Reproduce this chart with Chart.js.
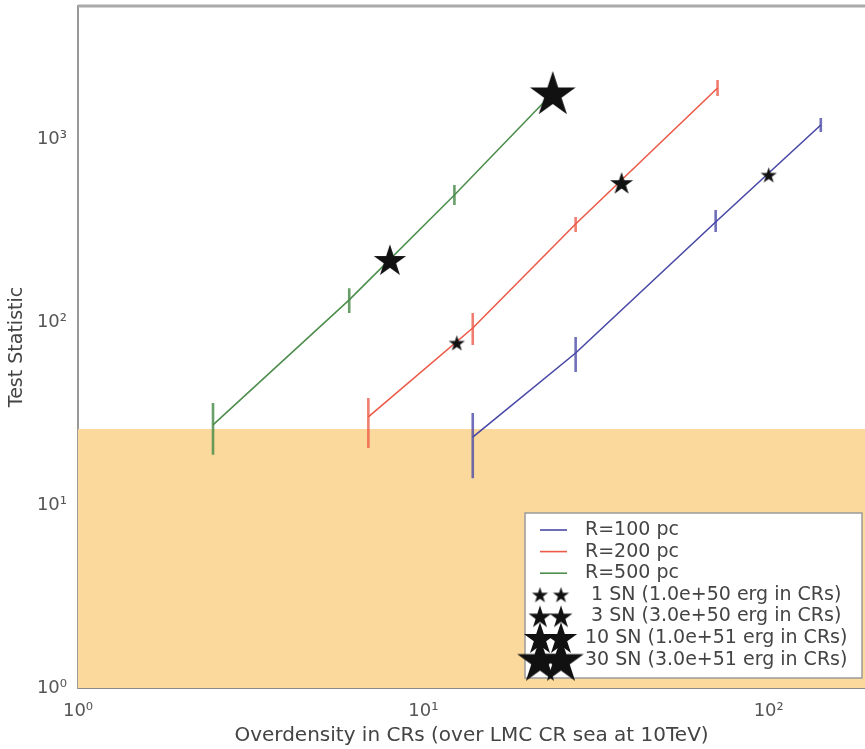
<!DOCTYPE html>
<html>
<head>
<meta charset="utf-8">
<script src="https://cdn.jsdelivr.net/npm/chart.js@4/dist/chart.umd.min.js"></script>
<style>
  html, body { margin: 0; padding: 0; background: #fff; overflow: hidden; }
  #wrap { width: 865px; height: 749px; }
</style>
</head>
<body>
<div id="wrap"><canvas id="c" width="865" height="749"></canvas></div>
<script>
"use strict";
// TS vs CR overdensity for three source radii, with SN-count stars and TS threshold band.

// R = 100 pc
const r100X  = [13.9, 27.6, 70.2, 141.5];
const r100Y  = [23.5, 67.7, 352, 1193];
const r100Lo = [14.0, 53.3, 310, 1092];
const r100Hi = [31.8, 82.8, 409, 1303];
// R = 200 pc
const r200X  = [6.93, 13.9, 27.6, 71.1];
const r200Y  = [30.3, 92.7, 343, 1900];
const r200Lo = [20.5, 74.9, 310, 1718];
const r200Hi = [38.4, 112, 375, 2100];
// R = 500 pc
const r500X  = [2.46, 6.1, 12.3, 23.7];
const r500Y  = [27.4, 132, 494, 1784];
const r500Lo = [18.8, 112, 436, 1614];
const r500Hi = [36.1, 153, 561, 1972];
// stars: number of SN
const starX  = [100, 12.5, 37.5, 8, 23.7];
const starY  = [636, 76.8, 575, 218, 1784];
const starSN = [1, 1, 3, 10, 30];
// threshold band
const bandTS = 26;
const xRange = [1, 190];
const yRange = [1, 5330];
const xTicks = [1, 10, 100];
const yTicks = [1, 10, 100, 1000];
const seriesNames = ["R=100 pc", "R=200 pc", "R=500 pc"];
const snLevels = [1, 3, 10, 30];
const snLabels = [" 1 SN (1.0e+50 erg in CRs)", " 3 SN (3.0e+50 erg in CRs)", "10 SN (1.0e+51 erg in CRs)", "30 SN (3.0e+51 erg in CRs)"];

const COL = ["#4848a6", "#ec5a48", "#4e8e4e"];
const BAR = ["rgba(72,72,166,.78)", "rgba(236,90,72,.78)", "rgba(78,142,78,.85)"];
const FONT = '"DejaVu Sans", sans-serif';
const starPx = { 1: 17, 3: 24, 10: 34, 30: 48 };

const pts = (xs, ys) => xs.map((x, i) => ({ x, y: ys[i] }));
const bars = (xs, lo, hi) => {
  const out = [];
  xs.forEach((x, i) => { out.push({ x, y: lo[i] }, { x, y: hi[i] }, { x, y: null }); });
  return out;
};
const sup = (v) => "10" + "⁰¹²³⁴"[Math.round(Math.log10(v))];

function starCanvas(d) {
  const c = document.createElement("canvas");
  c.width = c.height = d + 2;
  const g = c.getContext("2d"), R = d / 2, r = R * 0.382, cx = c.width / 2, cy = c.height / 2 + R * 0.08;
  g.beginPath();
  for (let k = 0; k < 10; k++) {
    const a = -Math.PI / 2 + k * Math.PI / 5, rr = k % 2 ? r : R;
    g[k ? "lineTo" : "moveTo"](cx + rr * Math.cos(a), cy + rr * Math.sin(a));
  }
  g.closePath();
  g.fillStyle = "#111"; g.fill();
  return c;
}
const starImg = {};
snLevels.forEach(n => { starImg[n] = starCanvas(starPx[n]); });

const lineDs = (label, xs, ys, col) => ({
  label, data: pts(xs, ys), borderColor: col, borderWidth: 1.6, pointRadius: 0, fill: false, order: 5
});
const barDs = (xs, lo, hi, col) => ({
  data: bars(xs, lo, hi), borderColor: col, borderWidth: 2.6, pointRadius: 0, spanGaps: false, fill: false, order: 4
});

// framed legend in the lower right corner + top spine
const legendPlugin = {
  id: "boxLegend",
  afterDraw(chart) {
    const { ctx, chartArea: a } = chart;
    ctx.save();
    ctx.strokeStyle = "#aaa"; ctx.lineWidth = 3;
    ctx.beginPath(); ctx.moveTo(a.left, a.top); ctx.lineTo(a.right, a.top); ctx.stroke();

    const bx = a.right - 340, by = a.bottom - 175, bw = 337, bh = 165, row = 21.6;
    ctx.fillStyle = "#fff"; ctx.fillRect(bx, by, bw, bh);
    ctx.strokeStyle = "#9a9a9a"; ctx.lineWidth = 1.5; ctx.strokeRect(bx, by, bw, bh);
    ctx.font = "19px " + FONT; ctx.fillStyle = "#444"; ctx.textBaseline = "middle";
    const tx = bx + 60;
    let y = by + 17;
    seriesNames.forEach((s, i) => {
      ctx.strokeStyle = COL[i]; ctx.lineWidth = 1.6;
      ctx.beginPath(); ctx.moveTo(bx + 15, y); ctx.lineTo(bx + 42, y); ctx.stroke();
      ctx.fillText(s, tx, y);
      y += row;
    });
    snLevels.forEach((n, i) => {
      const im = starImg[n];
      [bx + 15, bx + 36].forEach(cx => ctx.drawImage(im, cx - im.width / 2, y - im.height / 2));
      ctx.fillText(snLabels[i], tx, y);
      y += row;
    });
    ctx.restore();
  }
};

new Chart(document.getElementById("c"), {
  type: "line",
  data: {
    datasets: [
      { data: [{ x: 0.5, y: bandTS }, { x: 1000, y: bandTS }], borderWidth: 0, pointRadius: 0,
        backgroundColor: "#fbd89b", fill: "start", order: 10 },
      lineDs(seriesNames[0], r100X, r100Y, COL[0]),
      lineDs(seriesNames[1], r200X, r200Y, COL[1]),
      lineDs(seriesNames[2], r500X, r500Y, COL[2]),
      barDs(r100X, r100Lo, r100Hi, BAR[0]),
      barDs(r200X, r200Lo, r200Hi, BAR[1]),
      barDs(r500X, r500Lo, r500Hi, BAR[2]),
      { data: pts(starX, starY), showLine: false, pointRadius: 5,
        pointStyle: starSN.map(n => starImg[n]), order: 0 }
    ]
  },
  options: {
    responsive: false, animation: false,
    layout: { autoPadding: false, padding: { top: 6, right: 0, left: 0, bottom: 0 } },
    plugins: { legend: { display: false }, tooltip: { enabled: false } },
    scales: {
      x: {
        type: "logarithmic", min: xRange[0], max: xRange[1],
        afterBuildTicks: (s) => { s.ticks = xTicks.map(v => ({ value: v })); },
        afterFit: (s) => { s.height = 61; s.paddingLeft = 0; s.paddingRight = 0; },
        grid: { display: false },
        border: { color: "#888", width: 2 },
        ticks: { autoSkip: false, maxRotation: 0, padding: 5, color: "#555", font: { family: FONT, size: 18 }, callback: (v) => sup(v) },
        title: { display: true, text: "Overdensity in CRs (over LMC CR sea at 10TeV)", color: "#444", font: { family: FONT, size: 20 }, padding: { top: 0, bottom: 1 } }
      },
      y: {
        type: "logarithmic", min: yRange[0], max: yRange[1],
        afterBuildTicks: (s) => { s.ticks = yTicks.map(v => ({ value: v })); },
        afterFit: (s) => { s.width = 78; s.paddingTop = 0; s.paddingBottom = 0; },
        grid: { display: false },
        border: { color: "#999", width: 2 },
        ticks: { autoSkip: false, padding: 3, color: "#555", font: { family: FONT, size: 18 }, callback: (v) => sup(v) },
        title: { display: true, text: "Test Statistic", color: "#444", font: { family: FONT, size: 19 }, padding: { top: 6, bottom: 0 } }
      }
    }
  },
  plugins: [legendPlugin]
});
</script>
</body>
</html>
